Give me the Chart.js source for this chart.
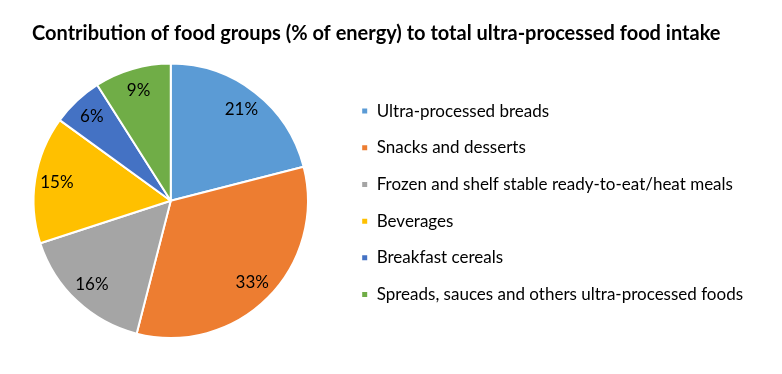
<!DOCTYPE html>
<html>
<head>
<meta charset="utf-8">
<script src="https://cdn.jsdelivr.net/npm/chart.js@4.4.0/dist/chart.umd.min.js"></script>
<style>
  html, body { margin: 0; padding: 0; background: #fff; }
  #wrap { width: 782px; height: 374px; position: relative; }
</style>
</head>
<body>
<div id="wrap"><canvas id="miGrafico"></canvas></div>
<script>
const titulo = 'Contribution of food groups (% of energy) to total ultra-processed food intake';
const categorias = [
    'Ultra-processed breads',
    'Snacks and desserts',
    'Frozen and shelf stable ready-to-eat/heat meals',
    'Beverages',
    'Breakfast cereals',
    'Spreads, sauces and others ultra-processed foods'
];
const valores = [21, 33, 16, 15, 6, 9];
const colores = ['#5B9BD5', '#ED7D31', '#A5A5A5', '#FFC000', '#4472C4', '#70AD47'];

// etiquetas de porcentaje dentro de cada porcion
const etiquetasPorcion = {
    id: 'etiquetasPorcion',
    afterDatasetsDraw(chart) {
        const ctx = chart.ctx;
        const meta = chart.getDatasetMeta(0);
        ctx.save();
        ctx.font = '17px Lato';
        ctx.fillStyle = '#000';
        ctx.textAlign = 'center';
        ctx.textBaseline = 'middle';
        meta.data.forEach((arc, i) => {
            const p = arc.getProps(['x', 'y', 'startAngle', 'endAngle', 'outerRadius'], true);
            const ang = (p.startAngle + p.endAngle) / 2;
            const r = p.outerRadius * 0.84;
            ctx.fillText(valores[i] + '%', p.x + Math.cos(ang) * r, p.y + Math.sin(ang) * r);
        });
        ctx.restore();
    }
};

new Chart(document.getElementById('miGrafico').getContext('2d'), {
    type: 'pie',
    data: {
        labels: categorias,
        datasets: [{
            data: valores,
            backgroundColor: colores,
            borderColor: '#fff',
            borderWidth: 2
        }]
    },
    options: {
        responsive: true,
        maintainAspectRatio: false,
        animation: false,
        layout: { padding: { left: 0, right: 29.5, top: 0, bottom: 35 } },
        plugins: {
            title: {
                display: true,
                text: titulo,
                color: '#000',
                font: { family: 'Lato', size: 20, weight: 'bold', lineHeight: 1.2 },
                padding: { top: 22, bottom: 16.6 }
            },
            legend: {
                position: 'right',
                fullSize: false,
                maxWidth: 411,
                title: { display: true, text: '', padding: 0, font: { size: 4, lineHeight: 1 } },
                labels: {
                    color: '#000',
                    boxWidth: 7,
                    boxHeight: 7,
                    padding: 19.7,
                    font: { family: 'Lato', size: 17, lineHeight: 1.0 }
                }
            },
            tooltip: { enabled: false }
        }
    },
    plugins: [etiquetasPorcion]
});
</script>
</body>
</html>
